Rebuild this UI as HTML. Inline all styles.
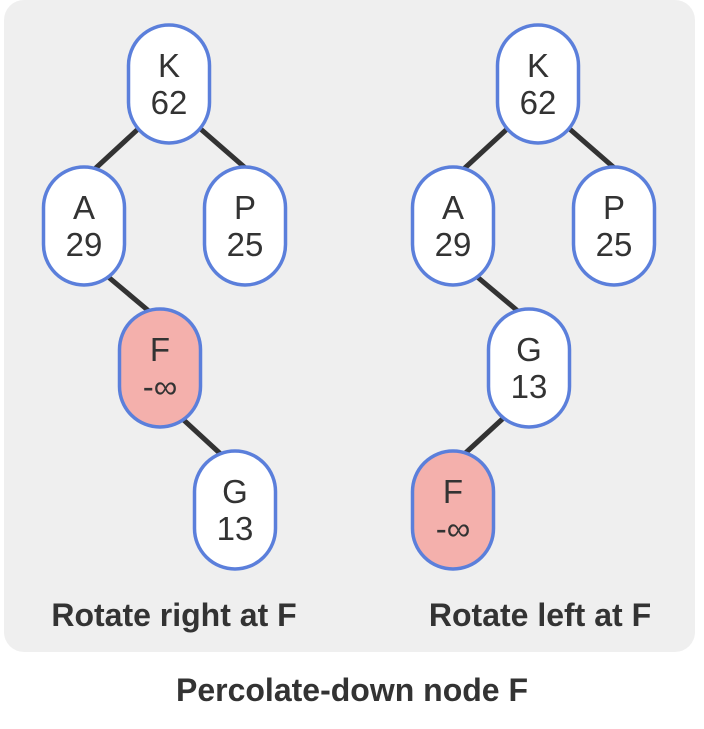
<!DOCTYPE html>
<html><head><style>
html,body{margin:0;padding:0;background:#fff;}
</style></head><body>
<svg width="704" height="724" xmlns="http://www.w3.org/2000/svg" font-family="Liberation Sans, Arial, sans-serif">
<rect x="4" y="0" width="691" height="652" rx="20" fill="#efefef"/>
<g stroke="#333" stroke-width="5">
<line x1="150" y1="118" x2="85" y2="178"/>
<line x1="188" y1="118" x2="250" y2="172"/>
<line x1="100" y1="270" x2="150" y2="312"/>
<line x1="175" y1="412" x2="225" y2="458"/>
<line x1="519" y1="118" x2="454" y2="178"/>
<line x1="557" y1="118" x2="619" y2="172"/>
<line x1="469" y1="270" x2="519" y2="312"/>
<line x1="510" y1="412" x2="460" y2="458"/>
</g>
<g stroke="#5b7fdb" stroke-width="3.5">
<rect x="128.5" y="25" width="81" height="118" rx="40.5" fill="#fff"/>
<rect x="43.5" y="167" width="81" height="118" rx="40.5" fill="#fff"/>
<rect x="204.5" y="167" width="81" height="118" rx="40.5" fill="#fff"/>
<rect x="119.5" y="309" width="81" height="118" rx="40.5" fill="#f4b0ac"/>
<rect x="194.5" y="451" width="81" height="118" rx="40.5" fill="#fff"/>
<rect x="497.5" y="25" width="81" height="118" rx="40.5" fill="#fff"/>
<rect x="412.5" y="167" width="81" height="118" rx="40.5" fill="#fff"/>
<rect x="573.5" y="167" width="81" height="118" rx="40.5" fill="#fff"/>
<rect x="488.5" y="309" width="81" height="118" rx="40.5" fill="#fff"/>
<rect x="412.5" y="451" width="81" height="118" rx="40.5" fill="#f4b0ac"/>
</g>
<g font-size="33" fill="#333" text-anchor="middle">
<text x="169" y="77">K</text><text x="169" y="114">62</text>
<text x="84" y="219">A</text><text x="84" y="256">29</text>
<text x="245" y="219">P</text><text x="245" y="256">25</text>
<text x="160" y="361">F</text><text x="160" y="398">-∞</text>
<text x="235" y="503">G</text><text x="235" y="540">13</text>
<text x="538" y="77">K</text><text x="538" y="114">62</text>
<text x="453" y="219">A</text><text x="453" y="256">29</text>
<text x="614" y="219">P</text><text x="614" y="256">25</text>
<text x="529" y="361">G</text><text x="529" y="398">13</text>
<text x="453" y="503">F</text><text x="453" y="540">-∞</text>
</g>
<g font-size="32" font-weight="bold" fill="#333" text-anchor="middle">
<text x="174" y="626">Rotate right at F</text>
<text x="540" y="626">Rotate left at F</text>
<text x="352" y="701">Percolate-down node F</text>
</g>
</svg>
</body></html>
